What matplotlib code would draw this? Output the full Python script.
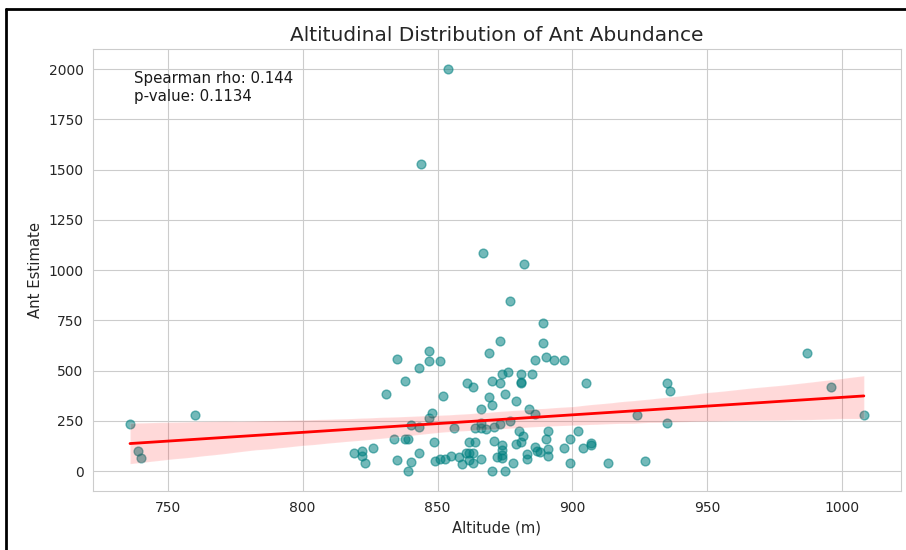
import matplotlib
matplotlib.use("Agg")
import matplotlib.pyplot as plt
import seaborn as sns
import numpy as np
import pandas as pd
from matplotlib.lines import Line2D

# altitude (m) and ant estimate
altitude = [
    736, 739, 740, 760,
    854, 844, 867, 882, 877, 889, 889, 987, 996, 1008,
    935, 936, 935, 924, 927, 913, 905, 904, 907, 907, 902,
    838, 831, 852, 848, 847, 840, 843, 856, 834, 838, 839, 848.5, 861.5,
    826, 819, 822, 822, 823, 843, 835, 840, 839, 849, 851, 852.6, 855,
    858, 860.7, 859, 861.5,
    861, 863, 870, 873, 881, 869, 875, 870, 879, 866, 884, 886, 877, 866,
    873, 871, 864, 866, 868, 880, 891, 881.5, 881, 879, 890, 899, 864,
    871, 874, 886, 887, 888, 891, 897, 861.5, 863, 874, 874, 872, 874,
    883, 883, 891, 866, 878, 863, 870, 875, 899,
    835, 847, 847, 851, 843, 873, 869, 886, 890, 893, 897, 876, 874, 881,
    885, 881,
]
ants = [
    234, 100, 65, 279,
    2000, 1530, 1085, 1030, 846, 736, 637, 587, 418, 279,
    438, 398, 239, 280, 50, 40, 438, 114, 129, 139, 199,
    448, 383, 373, 289, 264, 229, 219, 214, 159, 159, 159, 144, 144,
    114, 90, 100, 75, 40, 90, 55, 45, 0, 50, 60, 60, 75,
    70, 90, 35, 55,
    438, 418, 448, 438, 438, 368, 383, 328, 348, 308, 308, 284, 249, 239,
    234, 219, 214, 214, 209, 199, 199, 174, 144, 134, 159, 159, 144,
    149, 129, 119, 100, 95, 109, 114, 90, 90, 104, 80, 70, 65,
    85, 60, 75, 60, 40, 40, 0, 0, 40,
    557, 597, 547, 547, 512, 647, 587, 552, 567, 552, 552, 493, 483, 483,
    483, 443,
]
rho_text = "Spearman rho: 0.144\np-value: 0.1134"

df = pd.DataFrame({"Altitude": altitude, "Ants": ants})


def huber_fit(x, y, t=1.345, iters=50):
    # robust linear fit (Huber weights, IRLS), same idea as regplot(robust=True)
    X = np.column_stack([np.ones_like(x), x])
    b = np.linalg.lstsq(X, y, rcond=None)[0]
    for _ in range(iters):
        r = y - X @ b
        s = np.median(np.abs(r)) / 0.6745
        if s <= 0:
            break
        u = np.abs(r / s)
        w = np.where(u <= t, 1.0, t / np.maximum(u, 1e-12))
        sw = np.sqrt(w)
        b_new = np.linalg.lstsq(X * sw[:, None], y * sw, rcond=None)[0]
        if np.allclose(b_new, b, atol=1e-6):
            b = b_new
            break
        b = b_new
    return b


sns.set_style("whitegrid")
plt.rcParams['font.family'] = ['DejaVu Sans']

fig = plt.figure(figsize=(9.06, 5.5), dpi=100)
ax = fig.add_axes([0.103, 0.107, 0.891, 0.804])

sns.regplot(data=df, x="Altitude", y="Ants", ax=ax, fit_reg=False,
            scatter_kws={"color": "teal", "alpha": 0.55, "s": 40})

x = df["Altitude"].to_numpy(float)
y = df["Ants"].to_numpy(float)
x0 = x.mean()
grid = np.linspace(x.min(), x.max(), 100)
b = huber_fit(x - x0, y)
yhat = b[0] + b[1] * (grid - x0)

rng = np.random.default_rng(0)
boots = []
for _ in range(1000):
    idx = rng.integers(0, len(x), len(x))
    bb = huber_fit(x[idx] - x0, y[idx])
    boots.append(bb[0] + bb[1] * (grid - x0))
lo, hi = np.percentile(np.array(boots), [2.5, 97.5], axis=0)

ax.plot(grid, yhat, color="red", lw=2)
ax.fill_between(grid, lo, hi, facecolor="red", alpha=0.15)

ax.set_title("Altitudinal Distribution of Ant Abundance", fontsize=14.5, color=".15")
ax.set_xlabel("Altitude (m)", fontsize=10.7)
ax.set_ylabel("Ant Estimate", fontsize=10.7)
ax.tick_params(labelsize=10)
ax.set_yticks(range(0, 2001, 250))
ax.text(0.05, 0.95, rho_text, transform=ax.transAxes, va="top", ha="left",
        fontsize=10.8, color=".1", linespacing=1.25)

# screenshot frame on left and top
fig.add_artist(Line2D([6 / 906, 6 / 906], [0, 1 - 9 / 550], color="black", lw=2,
                      transform=fig.transFigure))
fig.add_artist(Line2D([6 / 906, 1], [1 - 9 / 550, 1 - 9 / 550], color="black", lw=2,
                      transform=fig.transFigure))

fig.savefig("out.png", dpi=100)
